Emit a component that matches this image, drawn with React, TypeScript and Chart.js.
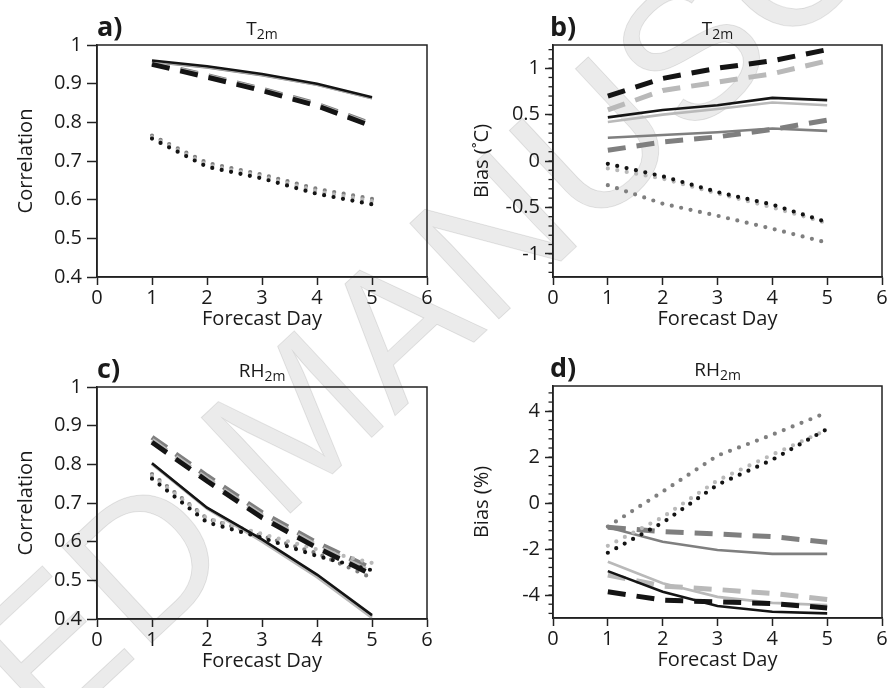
import React, { useEffect, useRef } from "react";
import { Chart, registerables } from "chart.js";

Chart.register(...registerables);

// ---------------- data ----------------
const forecastDays = [1, 2, 3, 4, 5];
const xTickValues = [0, 1, 2, 3, 4, 5, 6];

const corrTicks = [0.4, 0.5, 0.6, 0.7, 0.8, 0.9, 1];
const biasTTicks = [-1, -0.5, 0, 0.5, 1];
const biasTMinor = [-1.2, -1.1, -1, -0.9, -0.8, -0.7, -0.6, -0.5, -0.4, -0.3, -0.2, -0.1, 0, 0.1, 0.2, 0.3, 0.4, 0.5, 0.6, 0.7, 0.8, 0.9, 1, 1.1, 1.2];
const biasRHTicks = [-4, -2, 0, 2, 4];
const biasRHMinor = [-4.8, -4.4, -4, -3.6, -3.2, -2.8, -2.4, -2, -1.6, -1.2, -0.8, -0.4, 0, 0.4, 0.8, 1.2, 1.6, 2, 2.4, 2.8, 3.2, 3.6, 4, 4.4, 4.8];

// a) T2m correlation
const aSolidBlack = [0.96, 0.945, 0.925, 0.9, 0.865];
const aSolidLight = [0.958, 0.943, 0.923, 0.898, 0.863];
const aSolidDark = [0.957, 0.942, 0.922, 0.897, 0.862];
const aDashBlack = [0.95, 0.917, 0.882, 0.843, 0.79];
const aDashLight = [0.952, 0.919, 0.884, 0.845, 0.792];
const aDashDark = [0.954, 0.921, 0.886, 0.847, 0.795];
const aDotBlack = [0.758, 0.685, 0.655, 0.615, 0.588];
const aDotLight = [0.762, 0.69, 0.66, 0.622, 0.596];
const aDotDark = [0.766, 0.695, 0.665, 0.628, 0.602];

// b) T2m bias (°C)
const bSolidBlack = [0.47, 0.55, 0.6, 0.68, 0.656];
const bSolidLight = [0.42, 0.5, 0.56, 0.63, 0.6];
const bSolidDark = [0.25, 0.28, 0.31, 0.35, 0.325];
const bDashBlack = [0.7, 0.89, 1.0, 1.08, 1.2];
const bDashLight = [0.55, 0.76, 0.85, 0.94, 1.08];
const bDashDark = [0.115, 0.205, 0.26, 0.34, 0.44];
const bDotBlack = [-0.03, -0.165, -0.335, -0.47, -0.66];
const bDotLight = [-0.08, -0.19, -0.35, -0.5, -0.67];
const bDotDark = [-0.26, -0.46, -0.59, -0.73, -0.88];

// c) RH2m correlation
const cSolidBlack = [0.803, 0.688, 0.606, 0.515, 0.41];
const cSolidLight = [0.8, 0.685, 0.6, 0.508, 0.403];
const cSolidDark = [0.802, 0.687, 0.604, 0.512, 0.407];
const cDashBlack = [0.857, 0.757, 0.662, 0.584, 0.515];
const cDashLight = [0.862, 0.762, 0.667, 0.589, 0.52];
const cDashDark = [0.87, 0.77, 0.675, 0.597, 0.53];
const cDotBlack = [0.763, 0.65, 0.61, 0.563, 0.526];
const cDotLight = [0.77, 0.66, 0.62, 0.58, 0.545];
const cDotDark = [0.775, 0.66, 0.615, 0.57, 0.506];

// d) RH2m bias (%)
const dSolidBlack = [-2.96, -3.86, -4.48, -4.73, -4.8];
const dSolidLight = [-2.55, -3.49, -4.08, -4.34, -4.44];
const dSolidDark = [-1.05, -1.68, -2.04, -2.21, -2.21];
const dDashBlack = [-3.86, -4.22, -4.3, -4.37, -4.56];
const dDashLight = [-3.13, -3.61, -3.76, -3.93, -4.19];
const dDashDark = [-1.05, -1.24, -1.34, -1.46, -1.7];
const dDotBlack = [-2.16, -0.85, 0.8, 1.89, 3.23];
const dDotLight = [-1.86, -0.61, 0.99, 2.11, 3.2];
const dDotDark = [-1.02, 0.5, 2.07, 2.98, 3.95];

const BLACK = "#141414";
const LIGHT = "#b9b9b9";
const DARK = "#7f7f7f";
const AXIS = "#222222";
const FONT = '"Open Sans", "DejaVu Sans", sans-serif';
const TICK_SIZE = 20;

type Style = "solid" | "dash" | "dot";

function ds(values: number[], color: string, style: Style) {
  const base: any = {
    data: forecastDays.map((x, i) => ({ x, y: values[i] })),
    borderColor: color,
    backgroundColor: color,
    pointRadius: 0,
    fill: false,
    tension: 0,
  };
  if (style === "solid") {
    base.borderWidth = 2.6;
  } else if (style === "dash") {
    base.borderWidth = 5;
    base.borderDash = [18, 11];
    base.borderCapStyle = "butt";
  } else {
    base.borderWidth = 4.2;
    base.borderDash = [0, 9.6];
    base.borderCapStyle = "round";
  }
  return base;
}

function buildSets(s: number[][]) {
  // first dataset is drawn on top
  const [sb, sl, sd, db, dl, dd, ob, ol, od] = s;
  return [
    ds(sb, BLACK, "solid"),
    ds(db, BLACK, "dash"),
    ds(ob, BLACK, "dot"),
    ds(sl, LIGHT, "solid"),
    ds(dl, LIGHT, "dash"),
    ds(ol, LIGHT, "dot"),
    ds(sd, DARK, "solid"),
    ds(dd, DARK, "dash"),
    ds(od, DARK, "dot"),
  ];
}

const annotPlugin = {
  id: "annot",
  afterDraw(chart: any, _args: any, opts: any) {
    const { ctx, chartArea: ca } = chart;
    ctx.save();
    ctx.strokeStyle = AXIS;
    ctx.lineWidth = 1.5;
    ctx.strokeRect(ca.left, ca.top, ca.right - ca.left, ca.bottom - ca.top);
    if (opts.minor) {
      const ys = chart.scales.y;
      ctx.lineWidth = 1.3;
      opts.minor.forEach((v: number) => {
        const p = ys.getPixelForValue(v);
        ctx.beginPath();
        ctx.moveTo(ca.left - 4.5, p);
        ctx.lineTo(ca.left, p);
        ctx.stroke();
      });
    }
    ctx.fillStyle = "#1a1a1a";
    // panel letter
    ctx.font = `bold 27px ${FONT}`;
    ctx.textAlign = "left";
    ctx.textBaseline = "alphabetic";
    ctx.fillText(opts.letter, ca.left + opts.letterDx, ca.top - 9);
    // title with subscript
    const main = opts.title[0];
    const sub = opts.title[1];
    ctx.font = `19px ${FONT}`;
    const w1 = ctx.measureText(main).width;
    ctx.font = `14px ${FONT}`;
    const w2 = ctx.measureText(sub).width;
    const cx = (ca.left + ca.right) / 2;
    const x0 = cx - (w1 + w2) / 2;
    ctx.font = `19px ${FONT}`;
    ctx.fillText(main, x0, ca.top - 10);
    ctx.font = `14px ${FONT}`;
    ctx.fillText(sub, x0 + w1, ca.top - 6);
    // axis titles
    ctx.font = `${TICK_SIZE}px ${FONT}`;
    ctx.textAlign = "center";
    ctx.textBaseline = "middle";
    ctx.fillText("Forecast Day", cx, ca.bottom + 42);
    ctx.save();
    ctx.translate(ca.left - 71, (ca.top + ca.bottom) / 2);
    ctx.rotate(-Math.PI / 2);
    ctx.fillText(opts.yTitle, 0, 0);
    ctx.restore();
    ctx.restore();
  },
};

type PanelCfg = {
  left: number;
  top: number;
  padTop: number;
  padRight: number;
  yW: number;
  xH: number;
  yMin: number;
  yMax: number;
  yTicks: number[];
  yTickLen: number;
  minor?: number[];
  letter: string;
  letterDx: number;
  title: string[];
  yTitle: string;
  series: number[][];
};

const W = 445;
const H = 344;

const panels: PanelCfg[] = [
  {
    left: 0, top: 0, padTop: 45, padRight: 18, yW: 97, xH: 67,
    yMin: 0.4, yMax: 1, yTicks: corrTicks, yTickLen: 10,
    letter: "a)", letterDx: 0, title: ["T", "2m"], yTitle: "Correlation",
    series: [aSolidBlack, aSolidLight, aSolidDark, aDashBlack, aDashLight, aDashDark, aDotBlack, aDotLight, aDotDark],
  },
  {
    left: 446, top: 0, padTop: 45, padRight: 9, yW: 107, xH: 67,
    yMin: -1.25, yMax: 1.25, yTicks: biasTTicks, yTickLen: 8, minor: biasTMinor,
    letter: "b)", letterDx: -3, title: ["T", "2m"], yTitle: "Bias (˚C)",
    series: [bSolidBlack, bSolidLight, bSolidDark, bDashBlack, bDashLight, bDashDark, bDotBlack, bDotLight, bDotDark],
  },
  {
    left: 0, top: 344, padTop: 43, padRight: 18, yW: 97, xH: 69,
    yMin: 0.4, yMax: 1, yTicks: corrTicks, yTickLen: 10,
    letter: "c)", letterDx: 0, title: ["RH", "2m"], yTitle: "Correlation",
    series: [cSolidBlack, cSolidLight, cSolidDark, cDashBlack, cDashLight, cDashDark, cDotBlack, cDotLight, cDotDark],
  },
  {
    left: 446, top: 344, padTop: 42, padRight: 9, yW: 107, xH: 70,
    yMin: -5, yMax: 5.1, yTicks: biasRHTicks, yTickLen: 8, minor: biasRHMinor,
    letter: "d)", letterDx: -3, title: ["RH", "2m"], yTitle: "Bias (%)",
    series: [dSolidBlack, dSolidLight, dSolidDark, dDashBlack, dDashLight, dDashDark, dDotBlack, dDotLight, dDotDark],
  },
];

function fmt(v: number) {
  return String(Math.round(v * 100) / 100);
}

function Panel({ cfg }: { cfg: PanelCfg }) {
  const ref = useRef<HTMLCanvasElement | null>(null);
  useEffect(() => {
    if (!ref.current) return;
    const chart = new Chart(ref.current, {
      type: "line",
      data: { datasets: buildSets(cfg.series) },
      plugins: [annotPlugin],
      options: {
        responsive: false,
        animation: false,
        events: [],
        layout: { padding: { top: cfg.padTop, right: cfg.padRight, left: 0, bottom: 0 } },
        plugins: {
          legend: { display: false },
          tooltip: { enabled: false },
          annot: { letter: cfg.letter, letterDx: cfg.letterDx, title: cfg.title, yTitle: cfg.yTitle, minor: cfg.minor },
        } as any,
        scales: {
          x: {
            type: "linear",
            min: 0,
            max: 6,
            afterBuildTicks: (s: any) => {
              s.ticks = xTickValues.map((v) => ({ value: v }));
            },
            afterFit: (s: any) => {
              s.height = cfg.xH;
            },
            grid: { drawOnChartArea: false, drawTicks: true, tickLength: 8, tickColor: AXIS, tickWidth: 1.5 },
            border: { color: AXIS, width: 1.5 },
            ticks: { color: "#1a1a1a", font: { family: FONT, size: TICK_SIZE }, padding: 1, maxRotation: 0, callback: (v: any) => fmt(Number(v)) },
          },
          y: {
            type: "linear",
            min: cfg.yMin,
            max: cfg.yMax,
            afterBuildTicks: (s: any) => {
              s.ticks = cfg.yTicks.map((v) => ({ value: v }));
            },
            afterFit: (s: any) => {
              s.width = cfg.yW;
            },
            grid: { drawOnChartArea: false, drawTicks: true, tickLength: cfg.yTickLen, tickColor: AXIS, tickWidth: 1.5 },
            border: { color: AXIS, width: 1.5 },
            ticks: { color: "#1a1a1a", font: { family: FONT, size: TICK_SIZE }, padding: 5, callback: (v: any) => fmt(Number(v)) },
          },
        },
      } as any,
    });
    return () => chart.destroy();
  }, [cfg]);
  return (
    <canvas
      ref={ref}
      width={W}
      height={H}
      style={{ position: "absolute", left: cfg.left, top: cfg.top, width: W, height: H, display: "block" }}
    />
  );
}

function Watermark() {
  const ref = useRef<HTMLCanvasElement | null>(null);
  useEffect(() => {
    const c = ref.current;
    if (!c) return;
    const ctx = c.getContext("2d");
    if (!ctx) return;
    ctx.clearRect(0, 0, 891, 688);
    ctx.save();
    ctx.translate(305, 428);
    ctx.rotate((-43 * Math.PI) / 180);
    ctx.font = `190px "Liberation Sans", "DejaVu Sans", sans-serif`;
    ctx.textAlign = "center";
    ctx.textBaseline = "middle";
    ctx.fillStyle = "rgba(0, 0, 0, 0.08)";
    ctx.fillText("ACCEPTED MANUSCRIPT", 0, 0);
    ctx.lineWidth = 1;
    ctx.strokeStyle = "rgba(0, 0, 0, 0.1)";
    ctx.strokeText("ACCEPTED MANUSCRIPT", 0, 0);
    ctx.restore();
  }, []);
  return (
    <canvas
      ref={ref}
      width={891}
      height={688}
      style={{ position: "absolute", left: 0, top: 0, width: 891, height: 688, display: "block" }}
    />
  );
}

export default function App() {
  return (
    <div style={{ position: "fixed", left: 0, top: 0, width: 891, height: 688, background: "#ffffff", overflow: "hidden" }}>
      <Watermark />
      {panels.map((p, i) => (
        <Panel key={i} cfg={p} />
      ))}
    </div>
  );
}
